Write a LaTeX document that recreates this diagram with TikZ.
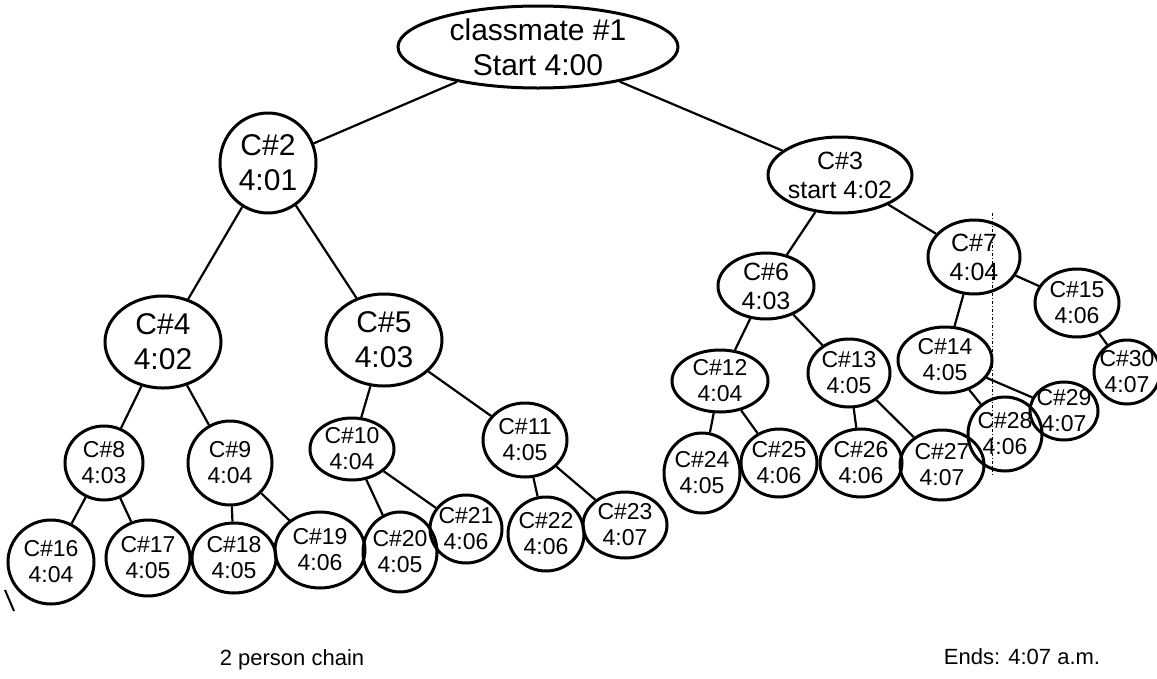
\documentclass[tikz,border=0pt]{standalone}
\usepackage{fontspec}
\setmainfont{Liberation Sans}
\usetikzlibrary{shapes.geometric}
\tikzset{
  lbl/.style={align=center,inner sep=0pt,font=\fontsize{23}{26}\selectfont},
  bigtext/.style={font=\fontsize{30}{35}\selectfont},
  midtext/.style={font=\fontsize{25}{29}\selectfont},
  pn/.style={ellipse,draw,line width=3pt,inner sep=0pt},
  link/.style={line width=2.2pt},
  note/.style={font=\fontsize{22}{26}\selectfont,inner sep=0pt}
}
\begin{document}
\begin{tikzpicture}[x=1pt,y=-1pt]
\useasboundingbox (0,0) rectangle (1157,678);
% root and level 1
\node[pn,minimum width=280,minimum height=82,label={[lbl,bigtext]center:{classmate \#1\\Start 4:00}}] (n1) at (538,47) {};
\node[pn,minimum width=96,minimum height=100,label={[lbl,bigtext]center:{C\#2\\4:01}}] (n2) at (268,163) {};
\node[pn,minimum width=144,minimum height=76,label={[lbl,midtext]center:{C\#3\\start 4:02}}] (n3) at (840,175) {};
% level 2
\node[pn,minimum width=116,minimum height=92,label={[lbl,bigtext]center:{C\#4\\4:02}}] (n4) at (163,342) {};
\node[pn,minimum width=116,minimum height=92,label={[lbl,bigtext]center:{C\#5\\4:03}}] (n5) at (384,340) {};
\node[pn,minimum width=96,minimum height=66,label={[lbl,midtext]center:{C\#6\\4:03}}] (n6) at (766,286) {};
\node[pn,minimum width=92,minimum height=74,label={[lbl,midtext]center:{C\#7\\4:04}}] (n7) at (974,257) {};
% level 3
\node[pn,minimum width=78,minimum height=74,label={[lbl]center:{C\#8\\4:03}}] (n8) at (104,463) {};
\node[pn,minimum width=84,minimum height=84,label={[lbl]center:{C\#9\\4:04}}] (n9) at (230,463) {};
\node[pn,minimum width=84,minimum height=62,label={[lbl]center:{C\#10\\4:04}}] (n10) at (352,449) {};
\node[pn,minimum width=84,minimum height=74,label={[lbl]center:{C\#11\\4:05}}] (n11) at (525,440) {};
\node[pn,minimum width=96,minimum height=62,label={[lbl]center:{C\#12\\4:04}}] (n12) at (720,381) {};
\node[pn,minimum width=82,minimum height=68,label={[lbl]center:{C\#13\\4:05}}] (n13) at (849,373) {};
\node[pn,minimum width=94,minimum height=66,label={[lbl]center:{C\#14\\4:05}}] (n14) at (945,360) {};
\node[pn,minimum width=84,minimum height=68,label={[lbl]center:{C\#15\\4:06}}] (n15) at (1077,303) {};
% level 4
\node[pn,minimum width=86,minimum height=84,label={[lbl]center:{C\#16\\4:04}}] (n16) at (51,562) {};
\node[pn,minimum width=84,minimum height=76,label={[lbl]center:{C\#17\\4:05}}] (n17) at (148,558) {};
\node[pn,minimum width=84,minimum height=70,label={[lbl]center:{C\#18\\4:05}}] (n18) at (234,558) {};
\node[pn,minimum width=90,minimum height=76,label={[lbl]center:{C\#19\\4:06}}] (n19) at (320,550) {};
\node[pn,minimum width=74,minimum height=80,label={[lbl]center:{C\#20\\4:05}}] (n20) at (400,552) {};
\node[pn,minimum width=72,minimum height=68,label={[lbl]center:{C\#21\\4:06}}] (n21) at (466,529) {};
\node[pn,minimum width=76,minimum height=74,label={[lbl]center:{C\#22\\4:06}}] (n22) at (546,534) {};
\node[pn,minimum width=84,minimum height=66,label={[lbl]center:{C\#23\\4:07}}] (n23) at (625,525) {};
\node[pn,minimum width=76,minimum height=80,label={[lbl]center:{C\#24\\4:05}}] (n24) at (702,473) {};
\node[pn,minimum width=76,minimum height=68,label={[lbl]center:{C\#25\\4:06}}] (n25) at (779,463) {};
\node[pn,minimum width=82,minimum height=68,label={[lbl]center:{C\#26\\4:06}}] (n26) at (861,463) {};
\node[pn,minimum width=84,minimum height=70,label={[lbl]center:{C\#27\\4:07}}] (n27) at (942,465) {};
\node[pn,minimum width=74,minimum height=74,label={[lbl]center:{C\#28\\4:06}}] (n28) at (1005,434) {};
\node[pn,minimum width=68,minimum height=58,label={[lbl]center:{C\#29\\4:07}}] (n29) at (1064,411) {};
\node[pn,minimum width=66,minimum height=64,label={[lbl]center:{C\#30\\4:07}}] (n30) at (1127,372) {};
% connectors
\draw[link] (n1) -- (n2);
\draw[link] (n1) -- (n3);
\draw[link] (n2) -- (n4);
\draw[link] (n2) -- (n5);
\draw[link] (n3) -- (n6);
\draw[link] (n3) -- (n7);
\draw[link] (n4) -- (n8);
\draw[link] (n4) -- (n9);
\draw[link] (n5) -- (n10);
\draw[link] (n5) -- (n11);
\draw[link] (n6) -- (n12);
\draw[link] (n6) -- (n13);
\draw[link] (n7) -- (n14);
\draw[link] (n7) -- (n15);
\draw[link] (n8) -- (n16);
\draw[link] (n8) -- (n17);
\draw[link] (n9) -- (n18);
\draw[link] (n9) -- (n19);
\draw[link] (n10) -- (n20);
\draw[link] (n10) -- (n21);
\draw[link] (n11) -- (n22);
\draw[link] (n11) -- (n23);
\draw[link] (n12) -- (n24);
\draw[link] (n12) -- (n25);
\draw[link] (n13) -- (n26);
\draw[link] (n13) -- (n27);
\draw[link] (n14) -- (n28);
\draw[link] (n14) -- (n29);
\draw[link] (n15) -- (n30);
% dash-dot guide line
\coordinate (g1) at (992,213);
\coordinate (g2) at (992,475);
\draw[line width=1pt,dash dot] (g1) -- (g2);
% stray stroke
\coordinate (s1) at (5,590);
\coordinate (s2) at (14,611);
\draw[line width=2pt] (s1) -- (s2);
% notes
\node[note] (t1) at (292,660) {2 person chain};
\node[note] (t2) at (1022,657) {Ends: 4:07 a.m.};
\end{tikzpicture}
\end{document}
